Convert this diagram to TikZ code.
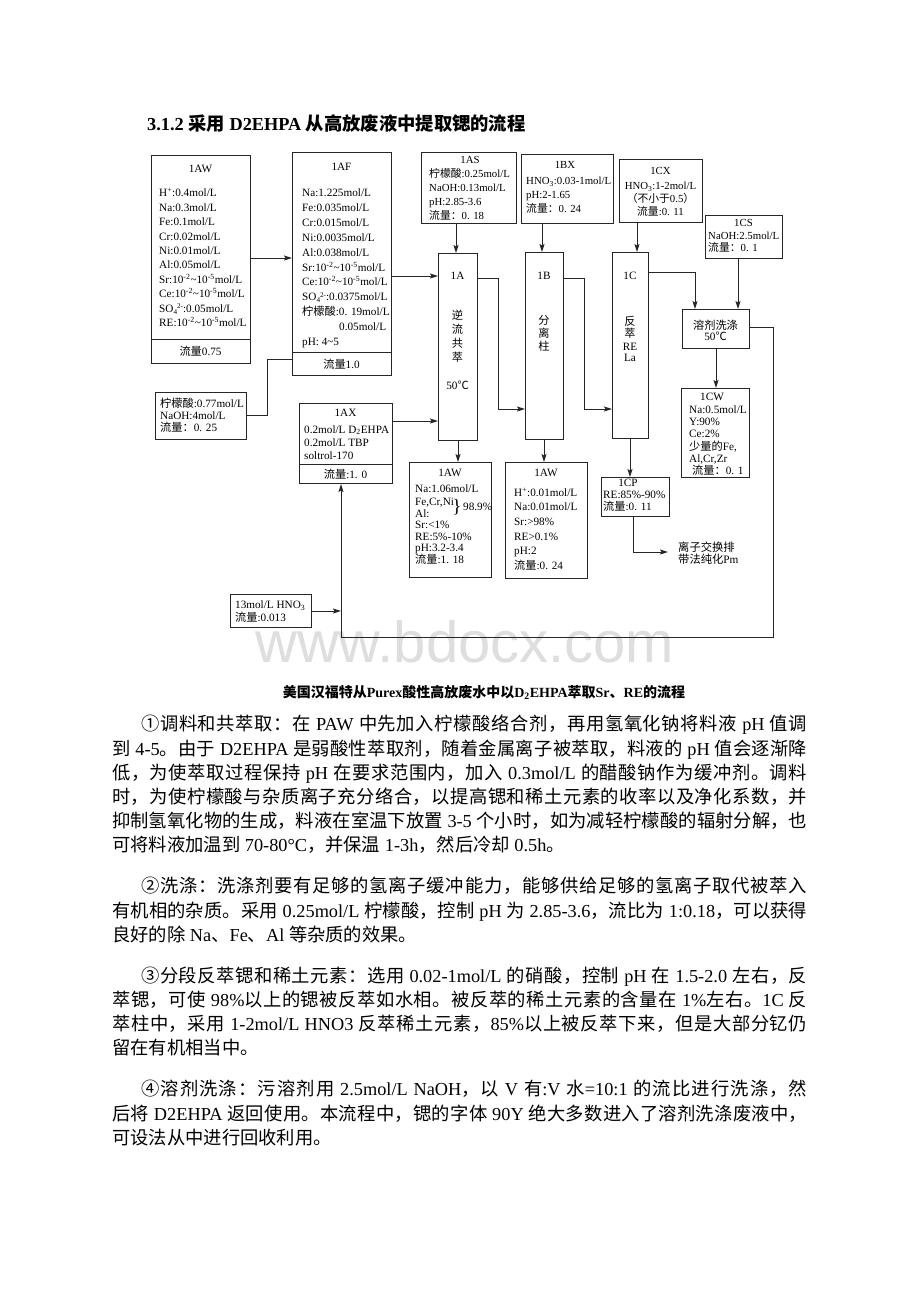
\documentclass[tikz,border=0pt]{standalone}
\usepackage{fontspec}
\setmainfont{Liberation Serif}
\newfontfamily\cjk{Noto Sans CJK SC}
\newfontfamily\wmfont{Liberation Sans}
\usetikzlibrary{arrows.meta}
% --- automatic CJK font switching ---
\newcount\cjkcc
\newcommand\setcls[3]{\cjkcc=#1\relax\loop\XeTeXcharclass\cjkcc=#3\relax\advance\cjkcc by 1\relax\ifnum\cjkcc<#2\repeat}
\setcls{"0020}{"0250}{0}
\setcls{"2000}{"2100}{0}
\setcls{"4E00}{"A000}{7}
\setcls{"3000}{"3040}{7}
\setcls{"FF00}{"FFF0}{7}
\setcls{"2460}{"2500}{7}
\XeTeXcharclass"2103=7
\def\cjkskip{}
\XeTeXinterchartoks 0 7 = {\cjk}
\XeTeXinterchartoks 4095 7 = {\cjk}
\XeTeXinterchartoks 7 0 = {\rmfamily}
\XeTeXinterchartoks 7 4095 = {\rmfamily}
\XeTeXinterchartoks 7 7 = {\cjkskip}
\XeTeXinterchartokenstate=1
\newcommand\dfont{\fontsize{11.2}{13}\selectfont}
\newcommand\sfont{\fontsize{10.8}{13}\selectfont}
\newcommand\bodyfont{\fontsize{18.3}{22}\selectfont\def\cjkskip{\hskip 0pt plus 2pt\relax}}
\newcommand\mysubsup[2]{\raisebox{-2.2pt}{\fontsize{7.2}{7}\selectfont #1}\raisebox{3.6pt}{\fontsize{7.2}{7}\selectfont #2}}
\newcommand\ten[1]{10\textsuperscript{-#1}}
\newcommand\bbox[5]{\node[bx, minimum width=#4pt, minimum height=#5pt] (#1) at (#2,#3) {};}
\tikzset{
  bx/.style={draw=black!85, line width=1pt, inner sep=0pt, anchor=north west},
  dt/.style={inner sep=0pt, font=\dfont},
  st/.style={inner sep=0pt, font=\sfont},
  ln/.style={draw=black!85, line width=1pt},
  arr/.style={ln, -{Stealth[length=8pt,width=5pt,inset=1.5pt]}},
  body/.style={inner sep=0pt, anchor=base west, font=\bodyfont},
}
\begin{document}
\begin{tikzpicture}[x=1pt,y=-1pt]
\fill[white] (0,0) rectangle (920,1302);
\useasboundingbox (0,0) rectangle (920,1302);
% watermark
\node[inner sep=0pt, anchor=base west, text=black!13, font=\wmfont\fontsize{58}{58}\selectfont] (wm) at (255,662) {www.bdocx.com};
% title
\node[inner sep=0pt, anchor=base west, font=\fontsize{18.3}{22}\selectfont\bfseries] (title) at (147,130) {3.1.2 采用 D2EHPA 从高放废液中提取锶的流程};
% ---------- boxes ----------
\bbox{aw}{151}{155}{99}{208}
\bbox{af}{292}{152}{99}{223}
\bbox{cit}{155}{392}{91}{47}
\bbox{ax}{299}{403}{93}{80}
\bbox{as}{421}{152}{95}{71}
\bbox{bx}{521}{154}{92}{69}
\bbox{cx}{619}{159}{83}{63}
\bbox{cs}{705}{215}{77}{43}
\bbox{a}{438}{253}{39}{187}
\bbox{b}{525}{252}{38}{187}
\bbox{c}{612}{252}{36}{186}
\bbox{wash}{682}{309}{67}{39}
\bbox{awb}{409}{462}{82}{115}
\bbox{awc}{505}{462}{82}{116}
\bbox{cp}{601}{477}{68}{39}
\bbox{cw}{681}{388}{68}{89}
\bbox{hno}{230}{594}{81}{33}
% dividers
\draw[ln] (aw.west |- 0,339) -- (aw.east |- 0,339);
\draw[ln] (af.west |- 0,352) -- (af.east |- 0,352);
\draw[ln] (ax.west |- 0,464) -- (ax.east |- 0,464);
% ---------- 1AW (feed) ----------
\node[dt,anchor=base] (awt) at (200.5,172.7) {1AW};
\foreach \t [count=\i from 0] in {{H\textsuperscript{+}:0.4mol/L},{Na:0.3mol/L},{Fe:0.1mol/L},{Cr:0.02mol/L},{Ni:0.01mol/L},{Al:0.05mol/L},{Sr:\ten{2}\textasciitilde\ten{5}mol/L},{Ce:\ten{2}\textasciitilde\ten{5}mol/L},{SO\mysubsup{4}{2-}:0.05mol/L},{RE:\ten{2}\textasciitilde\ten{5}mol/L}}
  \node[dt,anchor=base west] (aw-\i) at (159,{196.7+\i*14.45}) {\t};
\node[dt,anchor=base] (awf) at (200.5,355.7) {流量0.75};
% ---------- 1AF ----------
\node[dt,anchor=base] (aft) at (341.5,170.7) {1AF};
\foreach \t [count=\i from 0] in {{Na:1.225mol/L},{Fe:0.035mol/L},{Cr:0.015mol/L},{Ni:0.0035mol/L},{Al:0.038mol/L},{Sr:\ten{2}\textasciitilde\ten{5}mol/L},{Ce:\ten{2}\textasciitilde\ten{5}mol/L},{SO\mysubsup{4}{2-}:0.0375mol/L},{柠檬酸:0. 19mol/L}}
  \node[dt,anchor=base west] (af-\i) at (302,{196.7+\i*14.87}) {\t};
\node[dt,anchor=base west] (af-9) at (339,330.5) {0.05mol/L};
\node[dt,anchor=base west] (af-10) at (302,345.4) {pH: 4\textasciitilde5};
\node[dt,anchor=base] (aff) at (341.5,368.7) {流量1.0};
% ---------- citric acid feed ----------
\node[dt,anchor=base west] (cit-1) at (160,407.7) {柠檬酸:0.77mol/L};
\node[dt,anchor=base west] (cit-2) at (160,419.7) {NaOH:4mol/L};
\node[dt,anchor=base west] (cit-3) at (160,431.7) {流量：0. 25};
% ---------- 1AX ----------
\node[dt,anchor=base] (axt) at (345.5,416.7) {1AX};
\node[dt,anchor=base west] (ax-1) at (304,433.2) {0.2mol/L D\textsubscript{2}EHPA};
\node[dt,anchor=base west] (ax-2) at (304,446) {0.2mol/L TBP};
\node[dt,anchor=base west] (ax-3) at (304,459.4) {soltrol-170};
\node[dt,anchor=base] (axf) at (345.5,478.7) {流量:1. 0};
% ---------- 1AS ----------
\node[st,anchor=base] (ast) at (470,163.7) {1AS};
\node[st,anchor=base west] (as-1) at (429,177.7) {柠檬酸:0.25mol/L};
\node[st,anchor=base west] (as-2) at (429,191.7) {NaOH:0.13mol/L};
\node[st,anchor=base west] (as-3) at (429,205.4) {pH:2.85-3.6};
\node[st,anchor=base west] (as-4) at (429,219.4) {流量：0. 18};
% ---------- 1BX ----------
\node[st,anchor=base] (bxt) at (565,168.7) {1BX};
\node[st,anchor=base west] (bx-1) at (526,184.4) {HNO\textsubscript{3}:0.03-1mol/L};
\node[st,anchor=base west] (bx-2) at (526,198.7) {pH:2-1.65};
\node[st,anchor=base west] (bx-3) at (526,212.7) {流量：0. 24};
% ---------- 1CX ----------
\node[st,anchor=base] (cxt) at (660.5,174.7) {1CX};
\node[st,anchor=base] (cx-1) at (660.5,189.7) {HNO\textsubscript{3}:1-2mol/L};
\node[st,anchor=base] (cx-2) at (660.5,202) {（不小于0.5）};
\node[st,anchor=base] (cx-3) at (660.5,215.7) {流量:0. 11};
% ---------- 1CS ----------
\node[st,anchor=base] (cst) at (743.5,226.7) {1CS};
\node[st,anchor=base west] (cs-1) at (708,239.2) {NaOH:2.5mol/L};
\node[st,anchor=base west] (cs-2) at (708,251.7) {流量：0. 1};
% ---------- columns ----------
\node[dt,anchor=base] (at) at (457.5,279.7) {1A};
\node[dt,anchor=base] (a-1) at (457.5,319) {逆};
\node[dt,anchor=base] (a-2) at (457.5,333) {流};
\node[dt,anchor=base] (a-3) at (457.5,347) {共};
\node[dt,anchor=base] (a-4) at (457.5,361) {萃};
\node[dt,anchor=base] (a-5) at (457.5,389.7) {50℃};
\node[dt,anchor=base] (bt) at (544,279.7) {1B};
\node[dt,anchor=base] (b-1) at (544,324) {分};
\node[dt,anchor=base] (b-2) at (544,337) {离};
\node[dt,anchor=base] (b-3) at (544,350) {柱};
\node[dt,anchor=base] (ct) at (630,279.7) {1C};
\node[dt,anchor=base] (c-1) at (630,325.5) {反};
\node[dt,anchor=base] (c-2) at (630,337) {萃};
\node[dt,anchor=base] (c-3) at (630,350.4) {RE};
\node[dt,anchor=base] (c-4) at (630,361.7) {La};
% ---------- solvent wash ----------
\node[dt,anchor=base] (wash-1) at (715.5,329) {溶剂洗涤};
\node[dt,anchor=base] (wash-2) at (715.5,340.7) {50℃};
% ---------- 1AW (raffinate) ----------
\node[dt,anchor=base] (awbt) at (450,476.7) {1AW};
\node[dt,anchor=base west] (awb-1) at (415,492.7) {Na:1.06mol/L};
\node[dt,anchor=base west] (awb-2) at (415,505.2) {Fe,Cr,Ni};
\node[dt,anchor=base west] (awb-3) at (415,517.2) {Al:};
\node[inner sep=0pt, font=\fontsize{19}{19}\selectfont] (awb-br) at (457,507.5) {\}};
\node[dt,anchor=base west] (awb-p) at (463,510.7) {98.9\%};
\node[dt,anchor=base west] (awb-4) at (415,528.7) {Sr:<1\%};
\node[dt,anchor=base west] (awb-5) at (415,540.4) {RE:5\%-10\%};
\node[dt,anchor=base west] (awb-6) at (415,551.7) {pH:3.2-3.4};
\node[dt,anchor=base west] (awb-7) at (415,563.7) {流量:1. 18};
% ---------- 1AW (strip) ----------
\node[dt,anchor=base] (awct) at (546,476.7) {1AW};
\node[dt,anchor=base west] (awc-1) at (514,496.7) {H\textsuperscript{+}:0.01mol/L};
\node[dt,anchor=base west] (awc-2) at (514,510.7) {Na:0.01mol/L};
\node[dt,anchor=base west] (awc-3) at (514,525.7) {Sr:>98\%};
\node[dt,anchor=base west] (awc-4) at (514,540.7) {RE>0.1\%};
\node[dt,anchor=base west] (awc-5) at (514,554.7) {pH:2};
\node[dt,anchor=base west] (awc-6) at (514,569.7) {流量:0. 24};
% ---------- 1CP ----------
\node[dt,anchor=base] (cpt) at (628,486.7) {1CP};
\node[dt,anchor=base west] (cp-1) at (603,498.7) {RE:85\%-90\%};
\node[dt,anchor=base west] (cp-2) at (603,510.7) {流量:0. 11};
% ---------- 1CW ----------
\node[dt,anchor=base] (cwt) at (712,400.7) {1CW};
\node[dt,anchor=base west] (cw-1) at (689,413.7) {Na:0.5mol/L};
\node[dt,anchor=base west] (cw-2) at (689,425.7) {Y:90\%};
\node[dt,anchor=base west] (cw-3) at (689,437.7) {Ce:2\%};
\node[dt,anchor=base west] (cw-4) at (689,450.7) {少量的Fe,};
\node[dt,anchor=base west] (cw-5) at (689,462.7) {Al,Cr,Zr};
\node[dt,anchor=base west] (cw-6) at (692,474.7) {流量：0. 1};
% ---------- ion exchange ----------
\node[inner sep=0pt, anchor=base west, font=\fontsize{11.3}{13}\selectfont] (ion-1) at (678,551) {离子交换排};
\node[inner sep=0pt, anchor=base west, font=\fontsize{11.3}{13}\selectfont] (ion-2) at (678,563.5) {带法纯化Pm};
\coordinate (ionin) at (668,552);
% ---------- 13 mol/L HNO3 ----------
\node[dt,anchor=base west] (hno-1) at (235,608.7) {13mol/L HNO\textsubscript{3}};
\node[dt,anchor=base west] (hno-2) at (235,621.7) {流量:0.013};
% ---------- connectors ----------
\draw[arr] (aw.east |- 0,258) -- (af.west |- 0,258);
\draw[arr] (af.east |- 0,276) -- (a.west |- 0,276);
\draw[ln] (cit.east |- 0,415) -| (267,359) -- (af.west |- 0,359);
\draw[arr] (ax.east |- 0,421) -- (a.west |- 0,421);
\draw[arr] (as.south -| 456,0) -- (a.north -| 456,0);
\draw[arr] (bx.south -| 542,0) -- (b.north -| 542,0);
\draw[arr] (cx.south -| 637,0) -- (c.north -| 637,0);
\draw[arr] (a.east |- 0,278) -| (498,409) -- (b.west |- 0,409);
\draw[arr] (b.east |- 0,278) -| (584,409) -- (c.west |- 0,409);
\draw[arr] (c.east |- 0,272) -| (wash.north -| 695,0);
\draw[arr] (cs.south -| 738,0) -- (wash.north -| 738,0);
\draw[arr] (a.south -| 458,0) -- (awb.north -| 458,0);
\draw[arr] (b.south -| 544,0) -- (awc.north -| 544,0);
\draw[arr] (c.south -| 630,0) -- (cp.north -| 630,0);
\draw[arr] (cp.south -| 633,0) |- (ionin);
\draw[arr] (wash.south -| 716,0) -- (cw.north -| 716,0);
\draw[arr] (wash.east |- 0,327) -- (773,327) -- (773,637) -- (341,637) -- (ax.south -| 341,0);
\draw[arr] (hno.east) -- (hno.east -| 341,0);
% ---------- caption ----------
\node[inner sep=0pt, anchor=base, font=\fontsize{14}{16}\selectfont\bfseries] (cap) at (484,697) {美国汉福特从Purex酸性高放废水中以D\textsubscript{2}EHPA萃取Sr、RE的流程};
% ---------- body text ----------
\node[body] (p1a) at (141,730.8) {\makebox[666pt][s]{①调料和共萃取：在 PAW 中先加入柠檬酸络合剂，再用氢氧化钠将料液 pH 值调}};
\node[body] (p1b) at (112,755.0) {\makebox[695pt][s]{到 4-5。由于 D2EHPA 是弱酸性萃取剂，随着金属离子被萃取，料液的 pH 值会逐渐降}};
\node[body] (p1c) at (112,779.2) {\makebox[695pt][s]{低，为使萃取过程保持 pH 在要求范围内，加入 0.3mol/L 的醋酸钠作为缓冲剂。调料}};
\node[body] (p1d) at (112,803.4) {\makebox[695pt][s]{时，为使柠檬酸与杂质离子充分络合，以提高锶和稀土元素的收率以及净化系数，并}};
\node[body] (p1e) at (112,827.6) {\makebox[695pt][s]{抑制氢氧化物的生成，料液在室温下放置 3-5 个小时，如为减轻柠檬酸的辐射分解，也}};
\node[body] (p1f) at (112,851.8) {可将料液加温到 70-80°C，并保温 1-3h，然后冷却 0.5h。};
\node[body] (p2a) at (141,892.8) {\makebox[666pt][s]{②洗涤：洗涤剂要有足够的氢离子缓冲能力，能够供给足够的氢离子取代被萃入}};
\node[body] (p2b) at (112,917.0) {\makebox[695pt][s]{有机相的杂质。采用 0.25mol/L 柠檬酸，控制 pH 为 2.85-3.6，流比为 1:0.18，可以获得}};
\node[body] (p2c) at (112,941.2) {良好的除 Na、Fe、Al 等杂质的效果。};
\node[body] (p3a) at (141,982.2) {\makebox[666pt][s]{③分段反萃锶和稀土元素：选用 0.02-1mol/L 的硝酸，控制 pH 在 1.5-2.0 左右，反}};
\node[body] (p3b) at (112,1006.4) {\makebox[695pt][s]{萃锶，可使 98\%以上的锶被反萃如水相。被反萃的稀土元素的含量在 1\%左右。1C 反}};
\node[body] (p3c) at (112,1030.6) {\makebox[695pt][s]{萃柱中，采用 1-2mol/L HNO3 反萃稀土元素，85\%以上被反萃下来，但是大部分钇仍}};
\node[body] (p3d) at (112,1054.8) {留在有机相当中。};
\node[body] (p4a) at (141,1095.8) {\makebox[666pt][s]{④溶剂洗涤：污溶剂用 2.5mol/L NaOH，以 V 有:V 水=10:1 的流比进行洗涤，然}};
\node[body] (p4b) at (112,1120.0) {\makebox[695pt][s]{后将 D2EHPA 返回使用。本流程中，锶的字体 90Y 绝大多数进入了溶剂洗涤废液中，}};
\node[body] (p4c) at (112,1144.2) {可设法从中进行回收利用。};
\end{tikzpicture}
\end{document}
